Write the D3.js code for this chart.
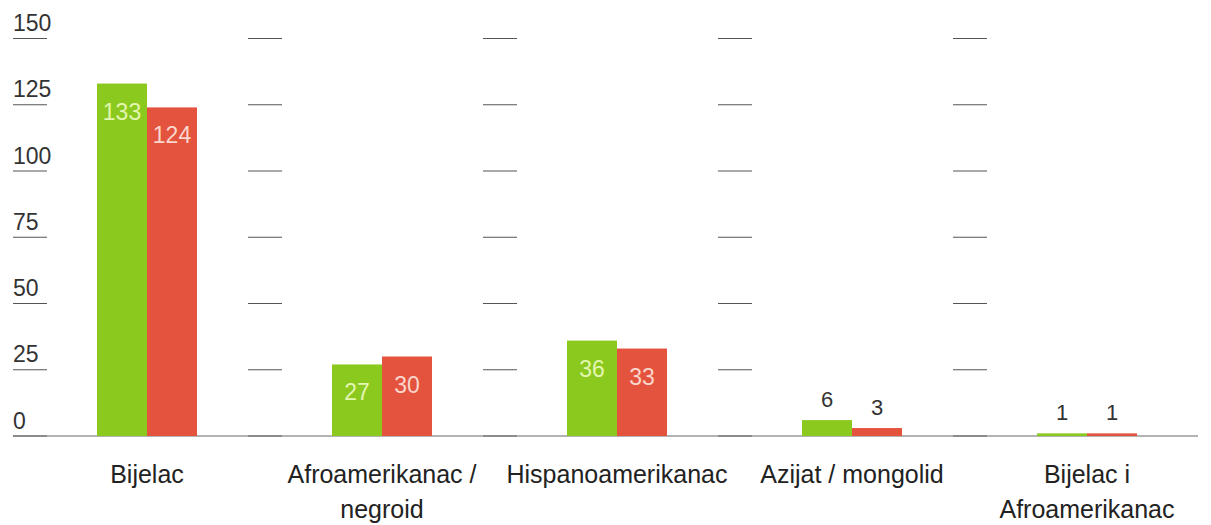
<!DOCTYPE html>
<html><head><meta charset="utf-8">
<script src="https://cdn.jsdelivr.net/npm/d3@7"></script>
<style>html,body{margin:0;padding:0;background:#fff;}svg{display:block;font-family:"Liberation Sans",Arial,sans-serif;}</style>
</head><body><svg id="c" width="1211" height="525"></svg>
<script>
const categories = [["Bijelac"], ["Afroamerikanac /", "negroid"], ["Hispanoamerikanac"], ["Azijat / mongolid"], ["Bijelac i", "Afroamerikanac"]];
const seriesNames = ["A", "B"];
const seriesA = [133, 27, 36, 6, 1];
const seriesB = [124, 30, 33, 3, 1];
const tickValues = [0, 25, 50, 75, 100, 125, 150];

const colors = ["#8cc91e", "#e4533e"];
const insideColors = ["#e2f6b0", "#fbd6cc"];
const svg = d3.select("#c");
const baseY = 436;
const y = d3.scaleLinear().domain([0, 150]).range([baseY, 38.5]);
const x0 = d3.scaleBand().domain(d3.range(categories.length)).range([13, 13 + 235 * 5]);
const x1 = d3.scaleBand().domain(seriesNames).range([84, 184]);

// tick segments per band
categories.forEach((c, i) => {
  const bx = x0(i);
  tickValues.forEach(t => {
    svg.append("line").attr("x1", bx).attr("x2", bx + 34)
      .attr("y1", y(t)).attr("y2", y(t))
      .attr("stroke", t === 0 ? "#666" : "#555").attr("stroke-width", t === 0 ? 2 : 1.2);
  });
});
// tick labels (first band only)
tickValues.forEach(t => {
  svg.append("text").attr("x", 13).attr("y", y(t) - 7.5)
    .attr("font-size", 23).attr("fill", "#333").attr("transform-origin", "13 0")
    .text(t);
});
// baseline
svg.append("line").attr("x1", 13).attr("x2", 1198).attr("y1", baseY).attr("y2", baseY)
  .attr("stroke", "#9a9a9a").attr("stroke-width", 1.6);

const series = [seriesA, seriesB];
series.forEach((vals, s) => {
  vals.forEach((v, i) => {
    const bx = x0(i) + x1(seriesNames[s]);
    const w = x1.bandwidth();
    svg.append("rect").attr("x", bx).attr("y", y(v)).attr("width", w)
      .attr("height", baseY - y(v)).attr("fill", colors[s]);
    const inside = v > 10;
    svg.append("text").attr("x", bx + w / 2)
      .attr("y", inside ? y(v) + 36 : y(v) - 13)
      .attr("text-anchor", "middle")
      .attr("font-size", inside ? 23 : 22)
      .attr("fill", inside ? insideColors[s] : "#333")
      .text(v);
  });
});

// category labels
categories.forEach((lines, i) => {
  const cx = x0(i) + 134;
  const t = svg.append("text").attr("text-anchor", "middle").attr("font-size", 25).attr("fill", "#222");
  lines.forEach((l, k) => {
    t.append("tspan").attr("x", cx).attr("y", 483 + k * 35).text(l);
  });
});
</script></body></html>
